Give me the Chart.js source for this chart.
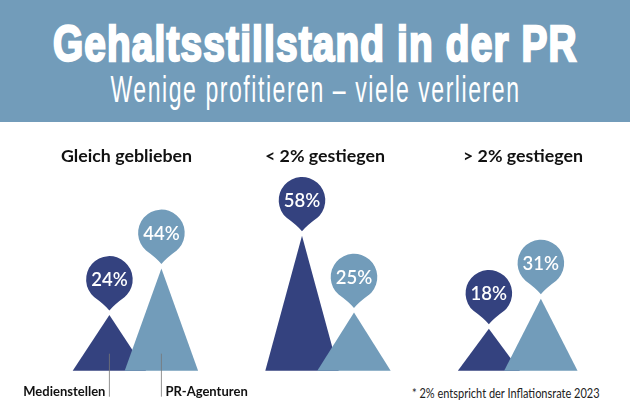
<!DOCTYPE html>
<html lang="de">
<head>
<meta charset="utf-8">
<title>Gehaltsstillstand in der PR</title>
<script src="https://cdn.jsdelivr.net/npm/chart.js@4"></script>
<style>
html, body { margin: 0; padding: 0; width: 630px; height: 412px; overflow: hidden; background: #fff; }
#header { position: absolute; left: 0; top: 0; width: 630px; height: 122px; background: #729cba; color: #fff; }
#header div { position: absolute; left: 0; width: 630px; display: flex; justify-content: center; white-space: nowrap; font-family: "Liberation Sans", sans-serif; }
#header span { flex-shrink: 0; }
#title { top: 15.7px; font-size: 50px; line-height: 56px; font-weight: bold; -webkit-text-stroke: 2.4px #fff; letter-spacing: 1.5px; }
#subtitle { top: 69px; font-size: 37px; line-height: 42px; letter-spacing: 2.5px; }
.groupTitle { position: absolute; top: 144px; font: bold 17.8px Lato, sans-serif; color: #111; transform: translateX(-50%); white-space: nowrap; }
#note { position: absolute; left: 412px; top: 385px; font: 12.7px Lato, sans-serif; color: #222; white-space: nowrap; transform-origin: left center; }
canvas { position: absolute; top: 0; }
</style>
</head>
<body>
<div id="header">
  <div id="title"><span>Gehaltsstillstand in der PR</span></div>
  <div id="subtitle"><span>Wenige profitieren – viele verlieren</span></div>
</div>
<div id="note">* 2% entspricht der Inflationsrate 2023</div>
<script>
const categories = ['Gleich geblieben', '< 2% gestiegen', '> 2% gestiegen'];
const seriesNames = ['Medienstellen', 'PR-Agenturen'];
const medienstellen = [24, 58, 18];
const prAgenturen = [44, 25, 31];

const DARK = '#34427f';
const LIGHT = '#729cba';

// each group is its own small chart, the groups are not evenly spaced
const groupCenters = [135.4, 328, 514.85];
const groupTitleCenters = [126.5, 325, 523];
const canvasBoxes = [[0, 270], [213, 230], [400, 230]];
const darkWidths = [73.4, 73.4, 62];
const lightWidth = 73.4;
const plotWidth = 104;

// no condensed font installed, so squeeze these lines to the right width
function squeeze(el, targetWidth) {
    el.style.transform = 'scaleX(' + targetWidth / el.offsetWidth + ')';
}
squeeze(document.querySelector('#title span'), 525);
squeeze(document.querySelector('#subtitle span'), 410);
squeeze(document.getElementById('note'), 188);

// bars are drawn as triangles
Chart.BarElement.prototype.draw = function(ctx) {
    const { x, y, base, width } = this.getProps(['x', 'y', 'base', 'width']);
    ctx.save();
    ctx.fillStyle = this.options.backgroundColor;
    ctx.beginPath();
    ctx.moveTo(x - width / 2, base);
    ctx.lineTo(x, y);
    ctx.lineTo(x + width / 2, base);
    ctx.closePath();
    ctx.fill();
    ctx.restore();
};

function drawPin(ctx, x, apexY, color, text) {
    const r = 23.3;
    const cy = apexY - 35.5;
    const tipY = apexY - 4.5;
    ctx.fillStyle = color;
    ctx.beginPath();
    ctx.arc(x, cy, r, Math.PI * 0.5 + 0.72, Math.PI * 0.5 - 0.72);
    ctx.quadraticCurveTo(x + 5, cy + 25, x, tipY);
    ctx.quadraticCurveTo(x - 5, cy + 25, x - r * Math.sin(0.72), cy + r * Math.cos(0.72));
    ctx.closePath();
    ctx.fill();
    ctx.fillStyle = '#fff';
    ctx.font = '600 18.5px Lato, sans-serif';
    ctx.textAlign = 'center';
    ctx.textBaseline = 'middle';
    ctx.fillText(text, x, cy + 1);
}

const pinPlugin = {
    id: 'pins',
    afterDatasetsDraw(chart) {
        const ctx = chart.ctx;
        ctx.save();
        chart.data.datasets.forEach((ds, d) => {
            chart.getDatasetMeta(d).data.forEach((bar, i) => {
                if (ds.data[i] == null) return;
                drawPin(ctx, bar.x, bar.y, ds.backgroundColor, ds.data[i] + '%');
            });
        });
        ctx.restore();
    }
};

// leader lines with the series names, only on the first group
const leaderPlugin = {
    id: 'leaders',
    afterDatasetsDraw(chart) {
        const ctx = chart.ctx;
        const base = chart.scales.y.getPixelForValue(0);
        ctx.save();
        ctx.font = 'bold 13px Lato, sans-serif';
        ctx.textBaseline = 'middle';
        seriesNames.forEach((name, i) => {
            const x = chart.scales.x.getPixelForValue(i);
            ctx.strokeStyle = '#777';
            ctx.lineWidth = 0.8;
            ctx.beginPath();
            ctx.moveTo(x, base - 17);
            ctx.lineTo(x, base + 26);
            ctx.stroke();
            ctx.fillStyle = '#111';
            ctx.textAlign = i === 0 ? 'right' : 'left';
            ctx.fillText(name, i === 0 ? x - 4 : x + 4, base + 21);
        });
        ctx.restore();
    }
};

categories.forEach((category, g) => {
    const [left, width] = canvasBoxes[g];
    const canvas = document.createElement('canvas');
    canvas.width = width;
    canvas.height = 412;
    canvas.style.left = left + 'px';
    document.body.appendChild(canvas);

    const heading = document.createElement('div');
    heading.className = 'groupTitle';
    heading.style.left = groupTitleCenters[g] + 'px';
    heading.textContent = category;
    document.body.appendChild(heading);

    const padLeft = groupCenters[g] - plotWidth / 2 - left;
    new Chart(canvas.getContext('2d'), {
        type: 'bar',
        data: {
            labels: seriesNames,
            datasets: [
                { label: seriesNames[0], data: [medienstellen[g], null], backgroundColor: DARK, barThickness: darkWidths[g], order: 1, clip: false },
                { label: seriesNames[1], data: [null, prAgenturen[g]], backgroundColor: LIGHT, barThickness: lightWidth, order: 0, clip: false }
            ]
        },
        options: {
            responsive: false,
            animation: false,
            layout: { padding: { left: padLeft, right: width - padLeft - plotWidth, top: 138.2, bottom: 41.3 } },
            plugins: { legend: { display: false }, tooltip: { enabled: false } },
            scales: {
                x: { display: false, stacked: true },
                y: { display: false, stacked: true, min: 0, max: 100 }
            }
        },
        plugins: g === 0 ? [pinPlugin, leaderPlugin] : [pinPlugin]
    });
});
</script>
</body>
</html>
